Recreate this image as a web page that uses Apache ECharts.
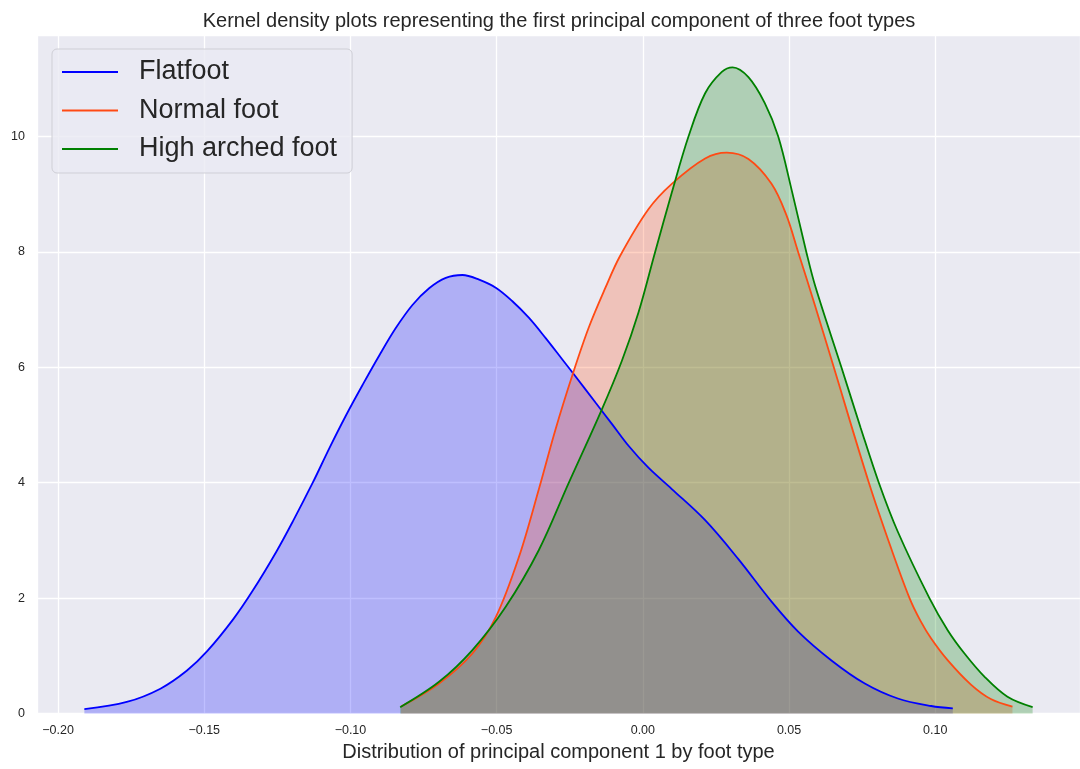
<!DOCTYPE html>
<html>
<head>
<meta charset="utf-8">
<script src="https://cdn.jsdelivr.net/npm/echarts@6/dist/echarts.min.js"></script>
<style>
  html, body { margin: 0; padding: 0; background: #ffffff; }
  #chart { width: 1080px; height: 769px; }
</style>
</head>
<body>
<div id="chart"></div>
<script>
// ---- data (x = principal component 1, y = density) ----
const seriesNames = ['Flatfoot', 'Normal foot', 'High arched foot'];

const flatfootPoints = [
  [-0.191, 0.077], [-0.1765, 0.20], [-0.165, 0.43], [-0.156, 0.74], [-0.149, 1.08],
  [-0.140, 1.64], [-0.1334, 2.13], [-0.1254, 2.80], [-0.1197, 3.33], [-0.1129, 4.00],
  [-0.1072, 4.60], [-0.1015, 5.17], [-0.0958, 5.70], [-0.0901, 6.21], [-0.0845, 6.68],
  [-0.0788, 7.08], [-0.0731, 7.37], [-0.0674, 7.55], [-0.0617, 7.60], [-0.0560, 7.52],
  [-0.0503, 7.38], [-0.0447, 7.15], [-0.0390, 6.86], [-0.0333, 6.51], [-0.0276, 6.14],
  [-0.0236, 5.88], [-0.0162, 5.39], [-0.0106, 5.02], [-0.0049, 4.64], [0.0019, 4.26],
  [0.0099, 3.89], [0.0213, 3.35], [0.0326, 2.68], [0.0440, 1.94], [0.0531, 1.42],
  [0.0645, 0.92], [0.0759, 0.52], [0.0872, 0.26], [0.0986, 0.13], [0.1060, 0.09]
];

const normalFootPoints = [
  [-0.0827, 0.12], [-0.0697, 0.52], [-0.0583, 1.04], [-0.0503, 1.67], [-0.0424, 2.71],
  [-0.0355, 3.90], [-0.0299, 4.92], [-0.0240, 5.88], [-0.0185, 6.69], [-0.0128, 7.38],
  [-0.0078, 7.93], [0.0019, 8.74], [0.0099, 9.18], [0.0213, 9.62], [0.0287, 9.72],
  [0.0361, 9.61], [0.0440, 9.18], [0.0490, 8.65], [0.0531, 8.00], [0.0590, 7.05],
  [0.0653, 6.00], [0.0773, 4.00], [0.0850, 2.85], [0.0912, 2.00], [0.0950, 1.60],
  [0.0986, 1.30], [0.1043, 0.92], [0.1122, 0.50], [0.1190, 0.25], [0.1264, 0.12]
];

const highArchedPoints = [
  [-0.0830, 0.11], [-0.0697, 0.55], [-0.0583, 1.10], [-0.0469, 1.85], [-0.0356, 2.83],
  [-0.0255, 3.98], [-0.0142, 5.25], [-0.0072, 6.11], [-0.0015, 6.95], [0.0042, 8.00],
  [0.0099, 9.03], [0.0156, 10.00], [0.0213, 10.75], [0.0270, 11.12], [0.0307, 11.20],
  [0.0361, 11.03], [0.0417, 10.58], [0.0463, 10.00], [0.0510, 9.05], [0.0559, 8.00],
  [0.0590, 7.40], [0.0679, 6.00], [0.0745, 4.95], [0.0807, 4.00], [0.0872, 3.15],
  [0.0980, 2.00], [0.1043, 1.44], [0.1100, 1.04], [0.1168, 0.64], [0.1247, 0.29],
  [0.1333, 0.11]
];

const xTickStep = 0.05;
const yTickStep = 2;

const titleText = 'Kernel density plots representing the first principal component of three foot types';
const xAxisTitle = 'Distribution of principal component 1 by foot type';

// ---- chart ----
const colors = ['#0000ff', '#ff4a14', '#008000'];
const font = "'Liberation Sans', Arial, sans-serif";
const textColor = '#262626';

const chart = echarts.init(document.getElementById('chart'), null, { renderer: 'canvas' });

function mkSeries(name, data, color) {
  return {
    name: name,
    type: 'line',
    data: data,
    smooth: 0.35,
    showSymbol: false,
    symbol: 'none',
    lineStyle: { color: color, width: 1.8 },
    itemStyle: { color: color },
    areaStyle: { color: color, opacity: 0.25, origin: 'start' },
    emphasis: { disabled: true },
    animation: false
  };
}

const option = {
  animation: false,
  backgroundColor: '#ffffff',
  textStyle: { fontFamily: font },
  title: {
    text: titleText,
    left: 554,
    top: 6,
    textAlign: 'center',
    textStyle: { fontFamily: font, fontSize: 20, fontWeight: 'normal', color: textColor }
  },
  grid: {
    left: 37,
    top: 35,
    width: 1046,
    height: 678.5,
    show: true,
    backgroundColor: '#EAEAF2',
    borderWidth: 0,
    containLabel: false
  },
  legend: {
    orient: 'vertical',
    left: 52,
    top: 49,
    data: seriesNames.map(n => ({ name: n, icon: 'rect' })),
    itemWidth: 56,
    itemHeight: 2,
    itemGap: 8.5,
    padding: [8, 15, 9, 10],
    backgroundColor: 'rgba(234,234,242,0.8)',
    borderColor: '#cfcfd6',
    borderWidth: 1,
    borderRadius: 5,
    selectedMode: false,
    textStyle: { fontFamily: font, fontSize: 27, color: textColor, lineHeight: 30, padding: [0, 0, 0, 16] }
  },
  xAxis: {
    type: 'value',
    min: -0.2072,
    max: 0.1495,
    splitNumber: 7,
    name: xAxisTitle,
    nameLocation: 'middle',
    nameGap: 27,
    nameTextStyle: { fontFamily: font, fontSize: 20, color: textColor },
    axisLine: { show: false },
    axisTick: { show: false },
    axisLabel: {
      margin: 11,
      fontFamily: font,
      fontSize: 12.5,
      color: textColor,
      showMinLabel: false,
      showMaxLabel: false,
      formatter: function (v) {
        const k = v / xTickStep;
        if (Math.abs(k - Math.round(k)) > 1e-6) return '';
        const s = Math.abs(v).toFixed(2);
        return (v < -1e-9 ? '\u2212' : '') + s;
      }
    },
    splitLine: { show: true, lineStyle: { color: '#ffffff', width: 1.3 } }
  },
  yAxis: {
    type: 'value',
    min: 0,
    max: 11.76,
    interval: yTickStep,
    axisLine: { show: false },
    axisTick: { show: false },
    axisLabel: {
      margin: 12,
      fontFamily: font,
      fontSize: 12.5,
      color: textColor,
      showMaxLabel: false,
      formatter: function (v) {
        if (Math.abs(v - Math.round(v)) > 1e-6) return '';
        return String(Math.round(v));
      }
    },
    splitLine: { show: true, lineStyle: { color: '#ffffff', width: 1.3 } }
  },
  series: [
    mkSeries(seriesNames[0], flatfootPoints, colors[0]),
    mkSeries(seriesNames[1], normalFootPoints, colors[1]),
    mkSeries(seriesNames[2], highArchedPoints, colors[2])
  ]
};

chart.setOption(option);
</script>
</body>
</html>
